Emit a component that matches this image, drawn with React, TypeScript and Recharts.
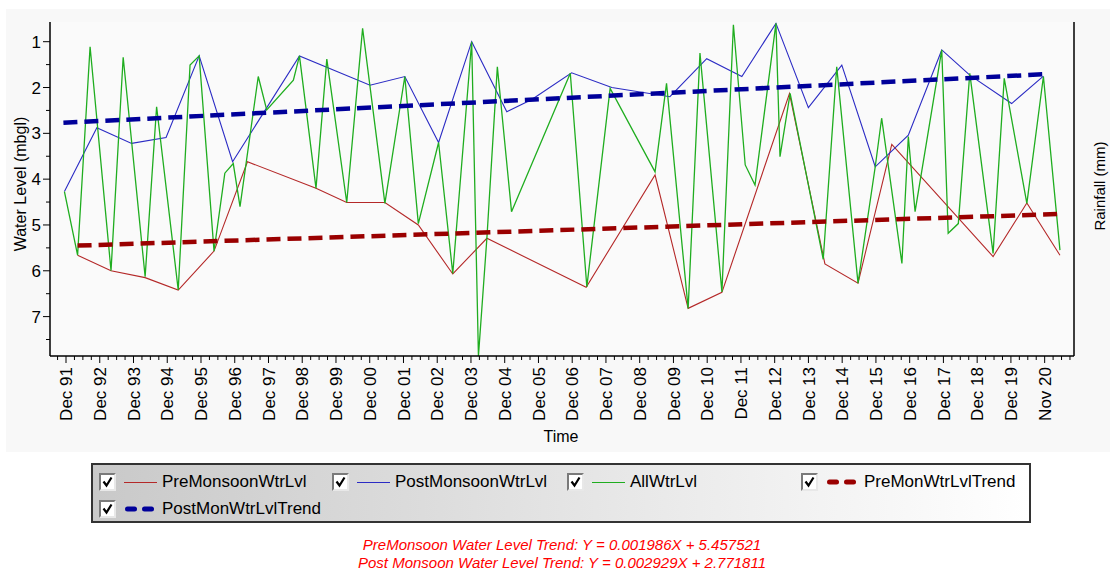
import React from 'react';
import { LineChart, Line, XAxis, YAxis, CartesianGrid } from 'recharts';

const FONT = '"Liberation Sans", Arial, sans-serif';

// AllWtrLvl observations: decimal year, water level (m bgl)
const allTime = [1991.87, 1992.26, 1992.63, 1993.25, 1993.61, 1994.26, 1994.6, 1995.24, 1995.59, 1995.86, 1996.3, 1996.62, 1996.87, 1997.07, 1997.61, 1997.86, 1998.65, 1998.83, 1999.32, 1999.64, 2000.23, 2000.7, 2001.36, 2001.95, 2002.35, 2002.95, 2003.37, 2003.93, 2004.13, 2004.38, 2004.69, 2005.11, 2006.85, 2007.34, 2008.03, 2009.36, 2009.7, 2010.34, 2010.69, 2011.34, 2011.68, 2012.03, 2012.32, 2012.94, 2013.06, 2013.36, 2014.34, 2014.74, 2015.37, 2015.88, 2016.07, 2016.67, 2016.86, 2017.06, 2017.85, 2018.04, 2018.34, 2018.68, 2019.37, 2019.7, 2020.37, 2020.86, 2021.35];
const allLevel = [4.27, 5.66, 1.11, 6.0, 1.34, 6.13, 2.42, 6.42, 1.51, 1.31, 5.57, 3.87, 3.66, 4.6, 1.76, 2.49, 1.84, 1.31, 4.2, 1.38, 4.51, 0.71, 4.53, 1.76, 4.97, 3.2, 6.06, 1.0, 7.86, 5.29, 1.55, 4.71, 1.69, 6.35, 2.02, 3.84, 1.91, 6.82, 1.25, 6.46, 0.63, 3.69, 4.13, 0.6, 3.51, 2.13, 5.75, 1.55, 6.27, 3.73, 2.67, 5.84, 3.07, 4.71, 1.18, 5.18, 4.97, 1.69, 5.62, 1.8, 4.53, 1.76, 5.55];

// PreMonsoonWtrLvl
const preTime = [1992.26, 1993.25, 1994.26, 1995.24, 1996.3, 1997.29, 1999.32, 2000.23, 2001.36, 2002.35, 2003.37, 2004.38, 2007.32, 2009.36, 2010.34, 2011.34, 2013.34, 2014.39, 2015.37, 2016.37, 2019.37, 2020.37, 2021.35];
const preLevel = [5.66, 6.0, 6.15, 6.42, 5.57, 3.62, 4.2, 4.51, 4.51, 5.0, 6.07, 5.29, 6.36, 3.91, 6.82, 6.47, 2.13, 5.85, 6.27, 3.24, 5.69, 4.52, 5.66];

// PostMonsoonWtrLvl
const postTime = [1991.87, 1992.83, 1993.86, 1994.88, 1995.86, 1996.85, 1998.83, 2000.92, 2001.95, 2002.95, 2003.93, 2004.97, 2005.71, 2006.89, 2008.08, 2009.8, 2010.89, 2011.93, 2012.94, 2013.9, 2014.89, 2015.88, 2016.86, 2017.85, 2018.68, 2019.92, 2020.86];
const postLevel = [4.27, 2.88, 3.22, 3.09, 1.31, 3.62, 1.31, 1.95, 1.76, 3.2, 1.0, 2.53, 2.26, 1.68, 2.0, 2.2, 1.37, 1.76, 0.6, 2.44, 1.51, 3.73, 3.04, 1.18, 1.73, 2.35, 1.75];

// Trend lines (end points)
const preTrendTime = [1992.26, 2021.4];
const preTrendLevel = [5.45, 4.76];
const postTrendTime = [1991.84, 2020.9];
const postTrendLevel = [2.77, 1.71];

// Axis labels
const xTickLabels = ['Dec 91', 'Dec 92', 'Dec 93', 'Dec 94', 'Dec 95', 'Dec 96', 'Dec 97', 'Dec 98', 'Dec 99', 'Dec 00', 'Dec 01', 'Dec 02', 'Dec 03', 'Dec 04', 'Dec 05', 'Dec 06', 'Dec 07', 'Dec 08', 'Dec 09', 'Dec 10', 'Dec 11', 'Dec 12', 'Dec 13', 'Dec 14', 'Dec 15', 'Dec 16', 'Dec 17', 'Dec 18', 'Dec 19', 'Nov 20'];
const yTickLabels = [1, 2, 3, 4, 5, 6, 7];

const equations = [
  'PreMonsoon Water Level Trend: Y = 0.001986X + 5.457521',
  'Post Monsoon Water Level Trend: Y = 0.002929X + 2.771811',
];

const X_DOMAIN: [number, number] = [1991.443, 2021.766];
const Y_DOMAIN: [number, number] = [0.57, 7.86];
const TICK0 = 1991.917;
const TICK_STEP = 365 / 365.25;

const zip = (t: number[], v: number[]) => t.map((tt, i) => ({ t: tt, v: v[i] }));
const allData = zip(allTime, allLevel);
const preData = zip(preTime, preLevel);
const postData = zip(postTime, postLevel);
const preTrendData = zip(preTrendTime, preTrendLevel);
const postTrendData = zip(postTrendTime, postTrendLevel);

const xTicks: number[] = [];
for (let i = -1; i <= xTickLabels.length; i++) {
  for (let j = 0; j < 4; j++) {
    const v = TICK0 + (i + j / 4) * TICK_STEP;
    if (v >= X_DOMAIN[0] && v <= X_DOMAIN[1]) xTicks.push(+v.toFixed(4));
  }
}
const yTicks: number[] = [];
yTickLabels.forEach((v) => {
  yTicks.push(v);
  if (v + 0.5 < Y_DOMAIN[1]) yTicks.push(v + 0.5);
});

const C_PRE = '#B42828';
const C_POST = '#2B2BC4';
const C_ALL = '#1FAD1F';
const C_PRE_TREND = '#9A0000';
const C_POST_TREND = '#00009A';

const XTick = (props: any) => {
  const { x, y, payload } = props;
  const k = (payload.value - TICK0) / TICK_STEP;
  const r = Math.round(k);
  const major = Math.abs(k - r) < 0.01 && r >= 0 && r < xTickLabels.length;
  return (
    <g>
      <line x1={x} x2={x} y1={y} y2={y + (major ? 7 : 4)} stroke="#000" strokeWidth={1} />
      {major && (
        <text
          x={x}
          y={y + 11}
          dy="0.36em"
          transform={`rotate(-90 ${x} ${y + 11})`}
          textAnchor="end"
          fontSize={17}
          fontFamily={FONT}
          fill="#000"
        >
          {xTickLabels[r]}
        </text>
      )}
    </g>
  );
};

const YTick = (props: any) => {
  const { x, y, payload } = props;
  const major = Number.isInteger(payload.value);
  return (
    <g>
      <line x1={x - (major ? 7 : 4)} x2={x} y1={y} y2={y} stroke="#000" strokeWidth={1} />
      {major && (
        <text x={x - 9} y={y} dy="0.36em" textAnchor="end" fontSize={17} fontFamily={FONT} fill="#000">
          {payload.value}
        </text>
      )}
    </g>
  );
};

const RainTick = (props: any) => {
  const { x, y, payload } = props;
  return (
    <text x={x + 3} y={y} dy="0.36em" textAnchor="start" fontSize={16} fontFamily={FONT} fill="#000">
      {payload.value}
    </text>
  );
};

const CheckBox = ({ left, top }: { left: number; top: number }) => (
  <div
    style={{
      position: 'absolute',
      left,
      top,
      width: 17,
      height: 18,
      boxSizing: 'border-box',
      borderTop: '2px solid #7a7a7a',
      borderLeft: '2px solid #7a7a7a',
      borderBottom: '2px solid #e8e8e8',
      borderRight: '2px solid #e8e8e8',
      background: '#fff',
    }}
  >
    <svg width={13} height={14} style={{ position: 'absolute', left: 0, top: 0 }}>
      <path d="M2.5 6.5 L5.5 10.5 L10.5 2.5" stroke="#000" strokeWidth={2.2} fill="none" />
    </svg>
  </div>
);

const SolidSample = ({ left, top, color }: { left: number; top: number; color: string }) => (
  <div style={{ position: 'absolute', left, top, width: 33, height: 0, borderTop: `1px solid ${color}` }} />
);

const DashSample = ({ left, top, color }: { left: number; top: number; color: string }) => (
  <svg width={36} height={8} style={{ position: 'absolute', left, top: top - 4 }}>
    <rect x={2} y={1.5} width={12} height={5} rx={2.5} fill={color} />
    <rect x={19} y={1.5} width={12} height={5} rx={2.5} fill={color} />
  </svg>
);

const legendItems = [
  { name: 'PreMonsoonWtrLvl', color: C_PRE, dashed: false, x: 99, row: 0 },
  { name: 'PostMonsoonWtrLvl', color: C_POST, dashed: false, x: 332, row: 0 },
  { name: 'AllWtrLvl', color: C_ALL, dashed: false, x: 567, row: 0 },
  { name: 'PreMonWtrLvlTrend', color: C_PRE_TREND, dashed: true, x: 801, row: 0 },
  { name: 'PostMonWtrLvlTrend', color: C_POST_TREND, dashed: true, x: 99, row: 1 },
];

export default function App() {
  return (
    <div style={{ position: 'absolute', left: 0, top: 0, width: 1110, height: 571, background: '#fff', fontFamily: FONT, overflow: 'hidden' }}>
      <div style={{ position: 'absolute', left: 6, top: 9, width: 1104, height: 443, background: '#F8F8F8' }} />
      <div style={{ position: 'absolute', left: 0, top: 0 }}>
        <LineChart width={1110} height={571} margin={{ top: 22, right: 0, left: 8, bottom: 135 }}>
          <CartesianGrid horizontal={false} vertical={false} fill="#FAFAFA" />
          <XAxis
            xAxisId="main"
            type="number"
            dataKey="t"
            domain={X_DOMAIN}
            allowDataOverflow
            ticks={xTicks}
            interval={0}
            tick={<XTick />}
            tickLine={false}
            tickSize={0}
            tickMargin={0}
            height={80}
            axisLine={{ stroke: '#000', strokeWidth: 1.5 }}
            label={{
              content: () => (
                <text x={561} y={436} textAnchor="middle" dy="0.36em" fontSize={16} fontFamily={FONT} fill="#000">
                  Time
                </text>
              ),
            }}
          />
          <XAxis
            xAxisId="top"
            orientation="top"
            type="number"
            dataKey="t"
            domain={X_DOMAIN}
            allowDataOverflow
            tick={false}
            tickLine={false}
            height={0}
            axisLine={{ stroke: '#000', strokeWidth: 1.5 }}
          />
          <YAxis
            yAxisId="wl"
            type="number"
            reversed
            domain={Y_DOMAIN}
            allowDataOverflow
            ticks={yTicks}
            interval={0}
            tick={<YTick />}
            tickLine={false}
            tickSize={0}
            tickMargin={0}
            width={42}
            axisLine={{ stroke: '#000', strokeWidth: 1.5 }}
            label={{
              content: () => (
                <text
                  x={20}
                  y={184}
                  dy="0.36em"
                  transform="rotate(-90 20 184)"
                  textAnchor="middle"
                  fontSize={16}
                  fontFamily={FONT}
                  fill="#000"
                >
                  Water Level (mbgl)
                </text>
              ),
            }}
          />
          <YAxis
            yAxisId="rain"
            orientation="right"
            type="number"
            domain={[-1, 1]}
            ticks={[0]}
            interval={0}
            tick={<RainTick />}
            tickLine={false}
            tickSize={0}
            tickMargin={0}
            width={36}
            axisLine={{ stroke: '#000', strokeWidth: 1.5 }}
            label={{
              content: () => (
                <text
                  x={1100}
                  y={186}
                  dy="0.36em"
                  transform="rotate(-90 1100 186)"
                  textAnchor="middle"
                  fontSize={15}
                  fontFamily={FONT}
                  fill="#000"
                >
                  Rainfall (mm)
                </text>
              ),
            }}
          />
          <Line xAxisId="main" yAxisId="wl" data={preData} dataKey="v" type="linear" stroke={C_PRE} strokeWidth={1.1} dot={false} activeDot={false} isAnimationActive={false} />
          <Line xAxisId="main" yAxisId="wl" data={postData} dataKey="v" type="linear" stroke={C_POST} strokeWidth={1.1} dot={false} activeDot={false} isAnimationActive={false} />
          <Line xAxisId="main" yAxisId="wl" data={allData} dataKey="v" type="linear" stroke={C_ALL} strokeWidth={1.3} dot={false} activeDot={false} isAnimationActive={false} />
          <Line xAxisId="main" yAxisId="wl" data={preTrendData} dataKey="v" type="linear" stroke={C_PRE_TREND} strokeWidth={4.5} strokeDasharray="14 7" dot={false} activeDot={false} isAnimationActive={false} />
          <Line xAxisId="main" yAxisId="wl" data={postTrendData} dataKey="v" type="linear" stroke={C_POST_TREND} strokeWidth={4.5} strokeDasharray="14 7" dot={false} activeDot={false} isAnimationActive={false} />
        </LineChart>
      </div>

      <div
        style={{
          position: 'absolute',
          left: 91,
          top: 463,
          width: 940,
          height: 60,
          boxSizing: 'border-box',
          border: '2px solid #333',
          background: 'linear-gradient(to right, #c9c9c9, #ffffff)',
        }}
      />
      {legendItems.map((it) => {
        const cy = it.row === 0 ? 482 : 509;
        return (
          <React.Fragment key={it.name}>
            <CheckBox left={it.x} top={cy - 9} />
            {it.dashed ? (
              <DashSample left={it.x + 24} top={cy} color={it.color} />
            ) : (
              <SolidSample left={it.x + 25} top={cy} color={it.color} />
            )}
            <div
              style={{
                position: 'absolute',
                left: it.x + 63,
                top: cy - 10,
                height: 20,
                lineHeight: '20px',
                fontSize: 17,
                color: '#000',
                whiteSpace: 'nowrap',
              }}
            >
              {it.name}
            </div>
          </React.Fragment>
        );
      })}

      {equations.map((eq, i) => (
        <div
          key={eq}
          style={{
            position: 'absolute',
            left: 0,
            width: 1124,
            top: 536 + i * 18,
            textAlign: 'center',
            fontSize: 15,
            fontStyle: 'italic',
            color: '#FF0000',
            lineHeight: '18px',
            whiteSpace: 'nowrap',
          }}
        >
          {eq}
        </div>
      ))}
    </div>
  );
}
